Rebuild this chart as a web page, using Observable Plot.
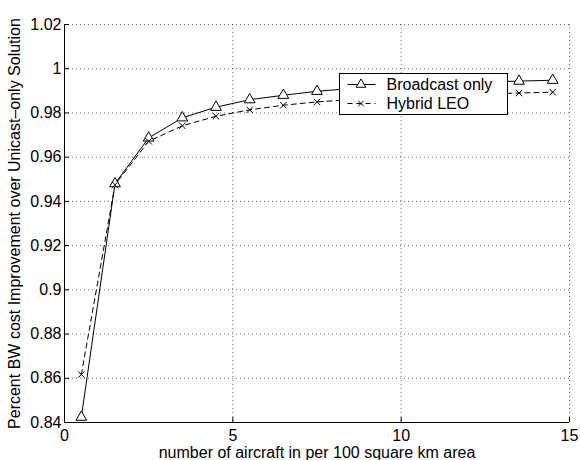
<!DOCTYPE html>
<html><head><meta charset="utf-8">
<script src="https://cdn.jsdelivr.net/npm/d3@7"></script>
<script src="https://cdn.jsdelivr.net/npm/@observablehq/plot@0.6"></script>
<style>
body{margin:0;background:#fff;font-family:"Liberation Sans",Arial,sans-serif;}
#wrap{position:relative;width:580px;height:460px;}
#legend{position:absolute;left:339px;top:73px;width:169px;height:42px;border:1.5px solid #000;background:#fff;box-sizing:border-box;}
#legend svg{position:absolute;left:0;top:0;}
</style></head><body><div id="wrap"></div>
<script>
const aircraft = [0.5,1.5,2.5,3.5,4.5,5.5,6.5,7.5,8.5,9.5,10.5,11.5,12.5,13.5,14.5];
const broadcastOnly = [0.8424,0.948,0.9687,0.9778,0.9826,0.986,0.988,0.9898,0.991,0.992,0.9928,0.9934,0.994,0.9944,0.9948];
const hybridLEO = [0.8617,0.9475,0.9672,0.9742,0.9785,0.9814,0.9835,0.985,0.986,0.9868,0.9875,0.988,0.9886,0.989,0.9894];
const seriesNames = ["Broadcast only","Hybrid LEO"];
const xTicks = [0,5,10,15];
const yTicks = [0.84,0.86,0.88,0.9,0.92,0.94,0.96,0.98,1,1.02];
const xLabel = "number of aircraft in per 100 square km area";
const yLabel = "Percent BW cost Improvement over Unicast\u2013only Solution";

const bData = aircraft.map((x,i)=>({x, y: broadcastOnly[i]}));
const hData = aircraft.map((x,i)=>({x, y: hybridLEO[i]}));
const fmt = d => String(+d.toFixed(2));
const FONT = "'Liberation Sans', Arial, sans-serif";

const chart = Plot.plot({
  width:580, height:460, marginLeft:64, marginRight:11, marginTop:24, marginBottom:38,
  style:{fontFamily:FONT, fontSize:"16px", background:"#fff", color:"#000"},
  x:{domain:[0,15]}, y:{domain:[0.84,1.02]},
  marks:[
    Plot.ruleX(xTicks.slice(1), {stroke:"#000", strokeOpacity:0.55, strokeDasharray:"1,3", strokeWidth:1}),
    Plot.ruleY(yTicks.slice(1), {stroke:"#000", strokeOpacity:0.55, strokeDasharray:"1,3", strokeWidth:1}),
    Plot.ruleX([0], {stroke:"#000"}),
    Plot.ruleY([0.84], {stroke:"#000"}),
    Plot.axisX({ticks:xTicks, tickSize:0, tickPadding:7, tickFormat:fmt, label:null, fontSize:16}),
    Plot.axisX({ticks:xTicks, tickSize:-5, fill:"none", label:null}),
    Plot.axisY({ticks:yTicks, tickSize:0, tickPadding:3, tickFormat:fmt, label:null, fontSize:16}),
    Plot.axisY({ticks:yTicks, tickSize:-5, fill:"none", label:null}),
    Plot.text([xLabel], {frameAnchor:"bottom", dy:30, lineAnchor:"middle", textAnchor:"middle", fontSize:16}),
    Plot.text([yLabel], {frameAnchor:"left", dx:-50, rotate:-90, lineAnchor:"middle", textAnchor:"middle", fontSize:16}),
    Plot.line(bData, {x:"x", y:"y", stroke:"#000", strokeWidth:1}),
    Plot.line(hData, {x:"x", y:"y", stroke:"#000", strokeWidth:1, strokeDasharray:"5,4"}),
    Plot.dot(bData, {x:"x", y:"y", symbol:"triangle", r:4, stroke:"#000", fill:"#fff", strokeWidth:1}),
    Plot.dot(hData, {x:"x", y:"y", symbol:"times", r:3, stroke:"#000", strokeWidth:1})
  ]
});
const wrap = document.getElementById("wrap");
wrap.appendChild(chart);

// legend
const leg = document.createElement("div");
leg.id = "legend";
const ns = "http://www.w3.org/2000/svg";
const svg = document.createElementNS(ns, "svg");
svg.setAttribute("width", 169); svg.setAttribute("height", 42);
const tri = d3.symbol(d3.symbolTriangle, 40)();
const cross = d3.symbol(d3.symbolTimes, 22)();
seriesNames.forEach((name, i) => {
  const cy = 10.5 + i*19;
  const g = d3.select(svg).append("g");
  g.append("line").attr("x1",7.5).attr("x2",35.5).attr("y1",cy).attr("y2",cy)
    .attr("stroke","#000").attr("stroke-dasharray", i ? "5,4" : null);
  g.append("path").attr("d", i ? cross : tri).attr("transform",`translate(21,${cy})`)
    .attr("stroke","#000").attr("fill", i ? "none" : "#fff");
  g.append("text").attr("x",46.5).attr("y",cy).attr("dy","0.35em")
    .attr("font-size",16).attr("font-family",FONT).text(name);
});
leg.appendChild(svg);
wrap.appendChild(leg);
</script>
</body></html>
